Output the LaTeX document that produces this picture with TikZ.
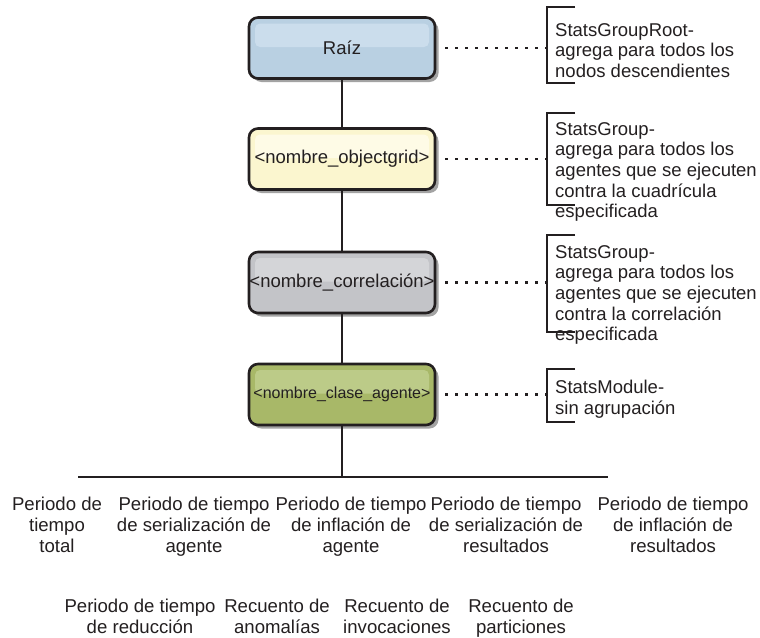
\documentclass[tikz,border=0pt]{standalone}
\usepackage{fontspec}
\setmainfont{Liberation Sans}
\usetikzlibrary{shadows,calc}
\definecolor{dk}{HTML}{231F20}
\definecolor{blueO}{HTML}{B9D0E2}
\definecolor{blueI}{HTML}{CBDDEC}
\definecolor{yelO}{HTML}{FBF6CF}
\definecolor{yelI}{HTML}{FEFBE6}
\definecolor{grayO}{HTML}{C3C4C8}
\definecolor{grayI}{HTML}{D4D5D8}
\definecolor{grnO}{HTML}{A8B868}
\definecolor{grnI}{HTML}{BCCB88}
\definecolor{shad}{HTML}{A3A3A3}
\begin{document}
\begin{tikzpicture}[x=1pt,y=-1pt,
  box/.style={draw=dk, line width=2.6pt, rounded corners=9pt,
    minimum width=186pt, minimum height=61pt, inner sep=0pt, text=dk,
    font=\fontsize{18.5}{20.7}\selectfont,
    drop shadow={shadow xshift=3.5pt, shadow yshift=-3.5pt, fill=shad, opacity=1}},
  hl/.style={path picture={\fill[#1, rounded corners=5pt]
    ([xshift=6pt,yshift=-6pt]path picture bounding box.north west) rectangle
    ([xshift=-6pt,yshift=1pt]path picture bounding box.east);}},
  conn/.style={draw=dk, line width=2.6pt},
  dots/.style={draw=dk, line width=2.4pt, dash pattern=on 2.4pt off 7.6pt},
  brk/.style={draw=dk, line width=2.5pt},
  rt/.style={align=left, inner sep=0pt, anchor=north west, text=dk,
    font=\fontsize{18.5}{20.7}\selectfont},
  bt/.style={align=center, inner sep=0pt, anchor=north, text=dk,
    font=\fontsize{18.6}{20.9}\selectfont}
]
\useasboundingbox (0,0) rectangle (760,637);

% boxes
\node[box, fill=blueO, hl=blueI] (r) at (342,48) {Raíz};
\node[box, fill=yelO, hl=yelI] (o) at (342,159) {<nombre\_objectgrid>};
\node[box, fill=grayO, hl=grayI] (c) at (342,282.5) {<nombre\_correlación>};
\node[box, fill=grnO, hl=grnI, font=\fontsize{16}{19}\selectfont] (a) at (342,394.5) {<nombre\_clase\_agente>};

% tree connectors
\coordinate (hb) at (342,477);
\coordinate (hl) at (78,477);
\coordinate (hr) at (608,477);
\draw[conn] (r.south) -- (o.north);
\draw[conn] (o.south) -- (c.north);
\draw[conn] (c.south) -- (a.north);
\draw[conn] (a.south) -- (hb);
\draw[conn] (hl) -- (hr);

% brackets
\coordinate (b1) at (547,48);
\coordinate (b2) at (547,159);
\coordinate (b3) at (547,282.5);
\coordinate (b4) at (547,394.5);
\draw[brk] (575,7) -- (547,7) -- (547,83) -- (575,83);
\draw[brk] (575,113) -- (547,113) -- (547,205) -- (575,205);
\draw[brk] (575,235) -- (547,235) -- (547,332) -- (575,332);
\draw[brk] (575,369) -- (547,369) -- (547,422) -- (575,422);

% dotted links
\draw[dots] ([xshift=9pt]r.east) -- (b1);
\draw[dots] ([xshift=9pt]o.east) -- (b2);
\draw[dots] ([xshift=9pt]c.east) -- (b3);
\draw[dots] ([xshift=9pt]a.east) -- (b4);

% right texts
\node[rt] (t1) at (555,23) {StatsGroupRoot-\\agrega para todos los\\nodos descendientes};
\node[rt] (t2) at (555,122) {StatsGroup-\\agrega para todos los\\agentes que se ejecuten\\contra la cuadrícula\\especificada};
\node[rt] (t3) at (555,245) {StatsGroup-\\agrega para todos los\\agentes que se ejecuten\\contra la correlación\\especificada};
\node[rt] (t4) at (555,380) {StatsModule-\\sin agrupación};

% bottom texts
\node[bt] (s1) at (57,497) {Periodo de\\tiempo\\total};
\node[bt] (s2) at (194,497) {Periodo de tiempo\\de serialización de\\agente};
\node[bt] (s3) at (351,497) {Periodo de tiempo\\de inflación de\\agente};
\node[bt] (s4) at (506,497) {Periodo de tiempo\\de serialización de\\resultados};
\node[bt] (s5) at (673,497) {Periodo de tiempo\\de inflación de\\resultados};
\node[bt] (u1) at (140,599) {Periodo de tiempo\\de reducción};
\node[bt] (u2) at (277,599) {Recuento de\\anomalías};
\node[bt] (u3) at (397,599) {Recuento de\\invocaciones};
\node[bt] (u4) at (521,599) {Recuento de\\particiones};
\end{tikzpicture}
\end{document}
